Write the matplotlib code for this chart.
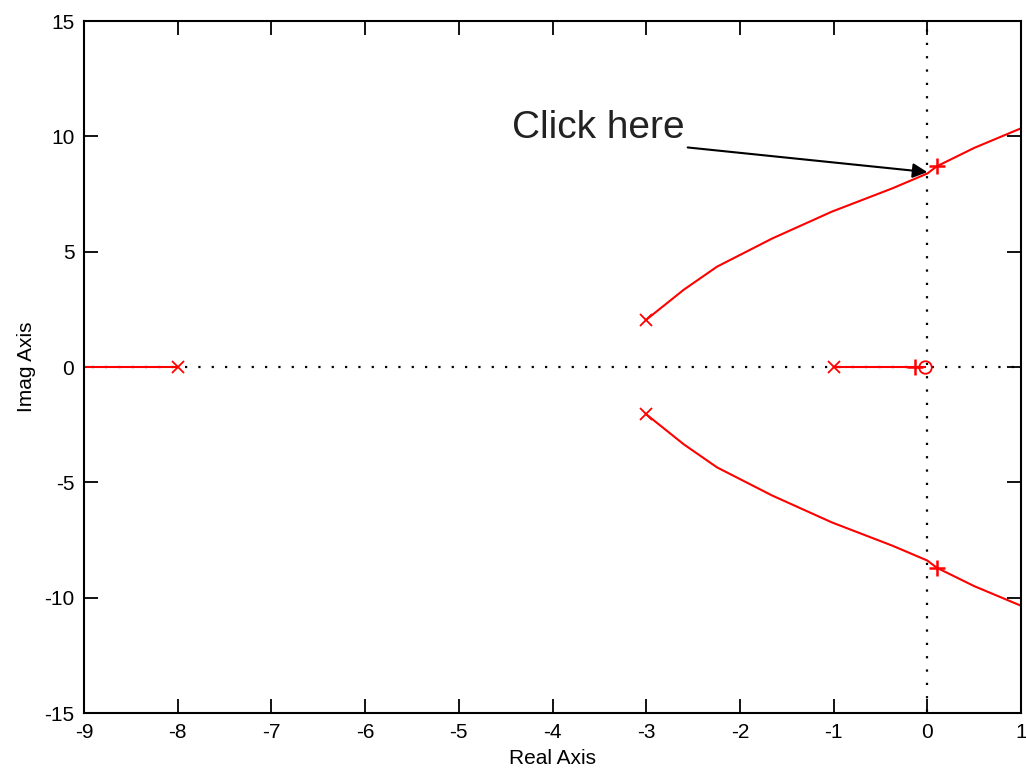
import matplotlib
matplotlib.use("Agg")
import matplotlib.pyplot as plt

plt.rcParams['axes.unicode_minus'] = False

# root locus branches
upper_re = [-3.0, -2.6, -2.245, -1.657, -1.017, -0.377, 0.0, 0.10, 0.5, 1.0]
upper_im = [2.05, 3.35, 4.35, 5.57, 6.74, 7.74, 8.39, 8.7, 9.5, 10.35]
lower_re = upper_re
lower_im = [-v for v in upper_im]
left_re = [-9.0, -8.0]
left_im = [0.0, 0.0]
mid_re = [-1.0, -0.03]
mid_im = [0.0, 0.0]

poles_re = [-8.0, -1.0, -3.0, -3.0]
poles_im = [0.0, 0.0, 2.05, -2.05]
zeros_re = [-0.03]
zeros_im = [0.0]
gain_re = [0.10, 0.10, -0.13, -9.5]
gain_im = [8.7, -8.7, 0.0, 0.0]

xticks = list(range(-9, 2))
yticks = [-15, -10, -5, 0, 5, 10, 15]

tick_font = ['Liberation Sans', 'DejaVu Sans']

fig = plt.figure(figsize=(10.26, 7.73), dpi=100)
ax = fig.add_axes([0.0819, 0.0776, 0.9133, 0.8952])

# dotted axes lines through the origin
ax.plot([-9.2, 1.2], [0, 0], color='black', lw=1.6, ls=(0, (1, 5)), zorder=1)
ax.plot([0, 0], [-15.5, 15.5], color='black', lw=1.6, ls=(0, (1, 5)), zorder=1)

red = '#ff0000'
for xs, ys in [(upper_re, upper_im), (lower_re, lower_im), (left_re, left_im), (mid_re, mid_im)]:
    ax.plot(xs, ys, color=red, lw=1.5, zorder=2)
ax.plot(poles_re, poles_im, 'x', color=red, ms=9, mew=1.3, zorder=3)
ax.plot(zeros_re, zeros_im, 'o', color=red, ms=9, mfc='none', mew=1.3, zorder=3)
ax.plot(gain_re, gain_im, '+', color=red, ms=12, mew=1.8, zorder=3)

ax.annotate('Click here', xy=(0.0, 8.45), xytext=(-4.43, 10.35),
            fontsize=28, family=['Liberation Sans', 'DejaVu Sans'], color='#222222',
            va='center', ha='left',
            arrowprops=dict(arrowstyle='-|>', color='black', lw=1.5,
                            mutation_scale=22, shrinkA=0, shrinkB=0,
                            relpos=(0.95, 0.0)))

ax.set_xlim(-9, 1)
ax.set_ylim(-15, 15)
ax.set_xticks(xticks)
ax.set_yticks(yticks)
ax.tick_params(direction='in', length=10, width=1.3, top=True, right=True,
               labelsize=15, pad=7)
for lab in ax.get_xticklabels() + ax.get_yticklabels():
    lab.set_family(tick_font)
for sp in ax.spines.values():
    sp.set_linewidth(1.5)

ax.set_xlabel('Real Axis', fontsize=15, family=tick_font, labelpad=5)
ax.set_ylabel('Imag Axis', fontsize=15, family=tick_font, labelpad=6)

fig.savefig('out.png', dpi=100)
